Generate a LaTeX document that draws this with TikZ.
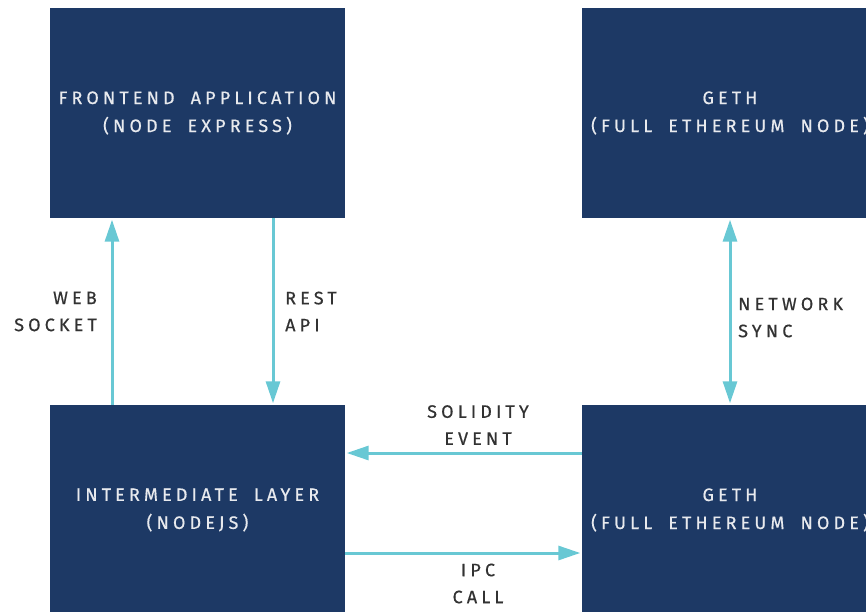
\documentclass[tikz,border=0pt]{standalone}
\usepackage{fontspec}
\usetikzlibrary{arrows.meta}
\newfontfamily\lab[LetterSpace=23,WordSpace=1.8,FakeBold=0.5]{Fira Sans}
\definecolor{navy}{RGB}{29,57,101}
\definecolor{arrowcyan}{RGB}{104,200,212}
\definecolor{boxtext}{RGB}{232,234,238}
\definecolor{labtext}{RGB}{50,50,50}
\begin{document}
\begin{tikzpicture}[x=1pt,y=-1pt,
  box/.style={fill=navy, draw=none, minimum width=296pt, minimum height=210pt, inner sep=0pt,
    text=boxtext, align=center, font=\lab\fontsize{18}{28}\selectfont},
  lbl/.style={text=labtext, inner sep=0pt, font=\lab\fontsize{18}{27}\selectfont},
  conn/.style={draw=arrowcyan, line width=3pt, shorten >=1.5pt, -{Triangle[length=22pt,width=14pt]}},
  conn2/.style={draw=arrowcyan, line width=3pt, shorten >=1.5pt, shorten <=1.5pt, {Triangle[length=22pt,width=14pt]}-{Triangle[length=22pt,width=14pt]}}]
\useasboundingbox (0,0) rectangle (866,612);
\clip (0,0) rectangle (866,612);
\node[box, minimum width=295pt] (tl) at (197.5,113) {FRONTEND APPLICATION\\(NODE EXPRESS)};
\node[box] (tr) at (730,113) {GETH\\(FULL ETHEREUM NODE)};
\node[box, minimum width=295pt] (bl) at (197.5,510) {INTERMEDIATE LAYER\\(NODEJS)};
\node[box] (br) at (730,510) {GETH\\(FULL ETHEREUM NODE)};
\draw[conn] ([xshift=-85.5pt]bl.north) -- ([xshift=-85.5pt]tl.south);
\draw[conn] ([xshift=75.5pt]tl.south) -- ([xshift=75.5pt]bl.north);
\draw[conn2] (tr.south) -- (br.north);
\draw[conn] ([yshift=57pt]br.west) -- ([yshift=57pt]bl.east);
\draw[conn] ([yshift=-43pt]bl.east) -- ([yshift=-43pt]br.west);
\node[lbl, anchor=east, align=right] (ws) at (97,311.5) {WEB\\SOCKET};
\node[lbl, anchor=west, align=left] (ra) at (285,311.5) {REST\\API};
\node[lbl, anchor=west, align=left] (ns) at (738,317.5) {NETWORK\\SYNC};
\node[lbl, align=center] (se) at (478,425) {SOLIDITY\\EVENT};
\node[lbl, align=center] (ic) at (478,583.5) {IPC\\CALL};
\end{tikzpicture}
\end{document}
